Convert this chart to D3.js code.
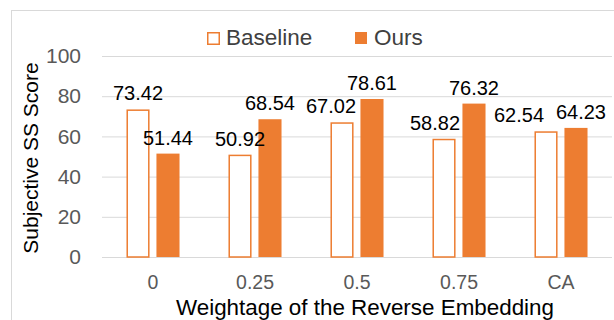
<!DOCTYPE html>
<html>
<head>
<meta charset="utf-8">
<script src="https://cdn.jsdelivr.net/npm/d3@7"></script>
<style>
  html, body { margin: 0; padding: 0; background: #fff; }
  svg { display: block; font-family: "Liberation Sans", Arial, sans-serif; }
</style>
</head>
<body>
<div id="chart"></div>
<script>
const categories = ['0', '0.25', '0.5', '0.75', 'CA'];
const baseline = [73.42, 50.92, 67.02, 58.82, 62.54];
const ours = [51.44, 68.54, 78.61, 76.32, 64.23];
const yTicks = [0, 20, 40, 60, 80, 100];
const seriesNames = ['Baseline', 'Ours'];

// small manual nudges of the value labels, as in the original
const labelNudge = {
  Baseline: [0, 0, -11, -9, -27],
  Ours: [0, 0, 0, 0, 5],
};

const options = {
  width: 614,
  height: 320,
};

const margin = { left: 102, right: 2, top: 56, bottom: 63 };
const orange = '#ED7D31';

const svg = d3.select('#chart')
  .append('svg')
  .attr('width', options.width)
  .attr('height', options.height);

// chart area frame (cropped at right/bottom)
svg.append('rect')
  .attr('x', 11.5)
  .attr('y', 10.5)
  .attr('width', options.width + 20)
  .attr('height', options.height + 20)
  .attr('fill', 'none')
  .attr('stroke', '#d9d9d9');

const x0 = d3.scaleBand()
  .domain(categories)
  .range([margin.left, options.width - margin.right]);

const x1 = d3.scaleBand()
  .domain(seriesNames)
  .range([x0.bandwidth() * 0.24, x0.bandwidth() * 0.76])
  .paddingInner(0.23);

const y = d3.scaleLinear()
  .domain([0, 100])
  .range([options.height - margin.bottom, margin.top]);

// gridlines + y labels
const yAxis = svg.append('g')
  .attr('transform', `translate(${margin.left},0)`)
  .call(d3.axisLeft(y)
    .tickValues(yTicks)
    .tickSize(-(options.width - margin.left - margin.right))
    .tickPadding(21));

yAxis.select('.domain').remove();
yAxis.selectAll('.tick line')
  .attr('stroke', '#d9d9d9');
yAxis.selectAll('.tick text')
  .attr('fill', '#595959')
  .attr('font-size', 21)
  .attr('font-family', '"Liberation Sans", Arial, sans-serif');

// x labels
const xAxis = svg.append('g')
  .attr('transform', `translate(0,${y(0)})`)
  .call(d3.axisBottom(x0).tickSize(0).tickPadding(18));

xAxis.select('.domain').remove();
xAxis.selectAll('.tick text')
  .attr('fill', '#595959')
  .attr('font-size', 19.5)
  .attr('font-family', '"Liberation Sans", Arial, sans-serif');

const rows = categories.map((c, i) => ({
  category: c,
  values: [
    { key: 'Baseline', value: baseline[i], i },
    { key: 'Ours', value: ours[i], i },
  ],
}));

const groups = svg.append('g')
  .selectAll('g')
  .data(rows)
  .enter()
  .append('g')
  .attr('transform', d => `translate(${x0(d.category)},0)`);

groups.selectAll('rect')
  .data(d => d.values)
  .enter()
  .append('rect')
  .attr('x', d => x1(d.key) + (d.key === 'Baseline' ? 0.75 : 0))
  .attr('y', d => y(d.value) + (d.key === 'Baseline' ? 0.75 : 0))
  .attr('width', d => x1.bandwidth() - (d.key === 'Baseline' ? 1.5 : 0))
  .attr('height', d => y(0) - y(d.value) - (d.key === 'Baseline' ? 0.75 : 0))
  .attr('fill', d => d.key === 'Baseline' ? '#fff' : orange)
  .attr('stroke', d => d.key === 'Baseline' ? orange : 'none')
  .attr('stroke-width', 1.5);

groups.selectAll('text')
  .data(d => d.values)
  .enter()
  .append('text')
  .attr('x', d => x1(d.key) + x1.bandwidth() / 2 + labelNudge[d.key][d.i])
  .attr('y', d => y(d.value) - 9)
  .attr('text-anchor', 'middle')
  .attr('font-size', 20)
  .attr('fill', '#000')
  .text(d => d.value.toFixed(2));

// legend
const legend = svg.append('g')
  .attr('transform', 'translate(207,32)');

const legendItems = [
  { name: 'Baseline', x: 0 },
  { name: 'Ours', x: 148 },
];

legendItems.forEach(item => {
  const isBase = item.name === 'Baseline';
  legend.append('rect')
    .attr('x', item.x + (isBase ? 0.75 : 0))
    .attr('y', isBase ? 0.75 : 0)
    .attr('width', isBase ? 11.5 : 12)
    .attr('height', isBase ? 11.5 : 12)
    .attr('fill', isBase ? '#fff' : orange)
    .attr('stroke', isBase ? orange : 'none')
    .attr('stroke-width', 1.5);
  legend.append('text')
    .attr('x', item.x + 19)
    .attr('y', 13)
    .attr('font-size', 22.5)
    .attr('fill', '#404040')
    .text(item.name);
});

// axis titles
svg.append('text')
  .attr('x', (margin.left + options.width - margin.right) / 2 + 8)
  .attr('y', 315)
  .attr('text-anchor', 'middle')
  .attr('font-size', 22.4)
  .attr('fill', '#000')
  .text('Weightage of the Reverse Embedding');

svg.append('text')
  .attr('transform', 'translate(38,158) rotate(-90)')
  .attr('text-anchor', 'middle')
  .attr('font-size', 21)
  .attr('fill', '#000')
  .text('Subjective SS Score');
</script>
</body>
</html>
